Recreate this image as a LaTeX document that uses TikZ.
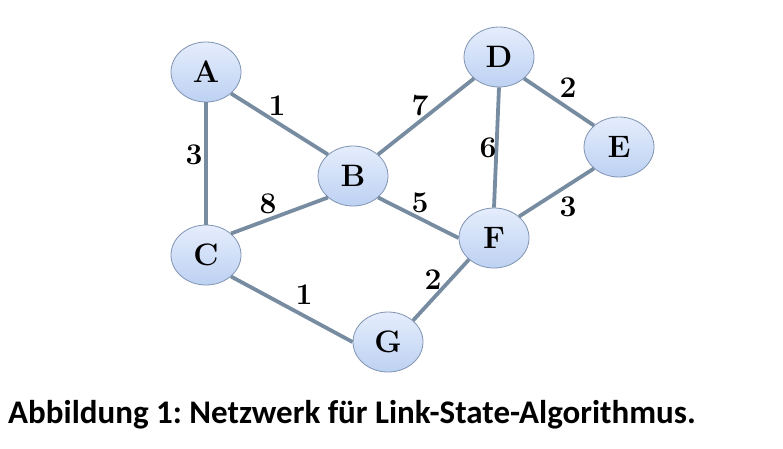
\documentclass[tikz,border=0pt]{standalone}
\usepackage{fontspec}
\newfontfamily\captionfont{Carlito}
\usepackage{xcolor}
\definecolor{linkgray}{rgb}{0.47, 0.55, 0.63}
\definecolor{nodeedge}{rgb}{0.50, 0.58, 0.70}
\definecolor{nodetop}{rgb}{0.90, 0.93, 0.99}
\definecolor{nodebottom}{rgb}{0.74, 0.82, 0.95}
\usetikzlibrary{shapes.geometric}
\tikzset{
  router/.style={ellipse,draw=nodeedge,thick,top color=nodetop,bottom color=nodebottom,
    minimum width=70pt,minimum height=60pt,inner sep=0pt,font=\bfseries\fontsize{31}{34}\selectfont},
  link/.style={line width=3.8pt,draw=linkgray},
  weight/.style={inner sep=1pt,font=\bfseries\fontsize{30}{34}\selectfont}
}
\frenchspacing

\begin{document}
\begin{tikzpicture}[x=1pt,y=-1pt]
  \useasboundingbox (0,0) rectangle (783,448);

  \node[router] (A) at (206,72) {A};
  \node[router] (B) at (353,176) {B};
  \node[router] (C) at (206,255) {C};
  \node[router] (D) at (499,57) {D};
  \node[router] (E) at (619,147) {E};
  \node[router] (F) at (494,238) {F};
  \node[router] (G) at (388,342) {G};

  % links between routers
  \draw[link] (A.south east) -- (B.north west);
  \draw[link] (A.south) -- (C.north);
  \draw[link] (C.north east) -- (B.south west);
  \draw[link] (B.north east) -- (D.south west);
  \draw[link] (B.south east) -- (F.west);
  \draw[link] (D.south) -- (F.north);
  \draw[link] (D.south east) -- (E.north west);
  \draw[link] (E.south west) -- (F.north east);
  \draw[link] (C.south east) -- (G.west);
  \draw[link] (G.north east) -- (F.south west);

  % link costs
  \node[weight] (wAB) at (277,106) {1};
  \node[weight] (wAC) at (194,155) {3};
  \node[weight] (wCB) at (268,204) {8};
  \node[weight] (wBD) at (420,106) {7};
  \node[weight] (wBF) at (420,203) {5};
  \node[weight] (wDF) at (488,148) {6};
  \node[weight] (wDE) at (568,88) {2};
  \node[weight] (wEF) at (568,207) {3};
  \node[weight] (wCG) at (304,295) {1};
  \node[weight] (wFG) at (433,280) {2};

  \node[anchor=base west,inner sep=0pt,font=\captionfont\bfseries\fontsize{33}{36}\selectfont] (caption) at (8,423)
    {Abbildung 1: Netzwerk für Link-State-Algorithmus.};
\end{tikzpicture}
\end{document}
